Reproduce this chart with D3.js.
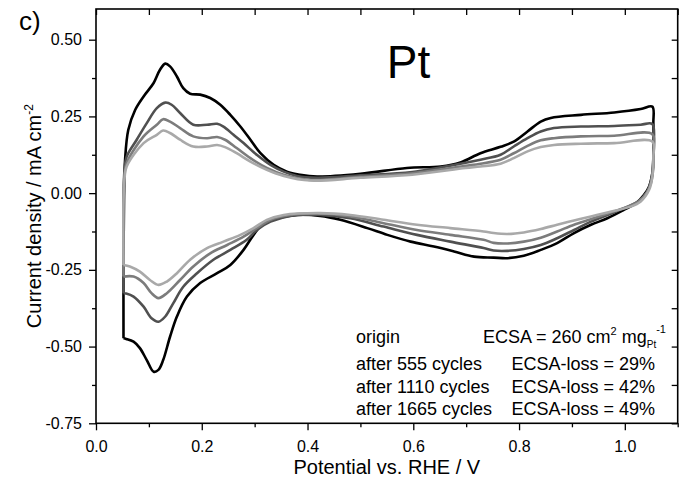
<!DOCTYPE html>
<html>
<head>
<meta charset="utf-8">
<script src="https://cdn.jsdelivr.net/npm/d3@7"></script>
<style>
  body { margin: 0; background: #fff; }
  svg { display: block; font-family: "Liberation Sans", Arial, sans-serif; }
</style>
</head>
<body>
<svg id="chart" width="681" height="477"></svg>
<script>
// potential (V vs RHE), current density (mA cm-2); loop: anodic scan then cathodic
var originCV = [
  [0.052, -0.473], [0.052, -0.25], [0.053, -0.022], [0.055, 0.109], [0.061, 0.206], [0.074, 0.271],
  [0.090, 0.315], [0.109, 0.359], [0.121, 0.402], [0.131, 0.422], [0.140, 0.413], [0.153, 0.380],
  [0.165, 0.342], [0.178, 0.324], [0.197, 0.321], [0.216, 0.310], [0.235, 0.288], [0.254, 0.255],
  [0.273, 0.217], [0.292, 0.174], [0.311, 0.130], [0.336, 0.092], [0.361, 0.070], [0.386, 0.060],
  [0.418, 0.054], [0.500, 0.063], [0.588, 0.082], [0.652, 0.087], [0.689, 0.100], [0.727, 0.130],
  [0.765, 0.151], [0.790, 0.168], [0.816, 0.201], [0.841, 0.233], [0.860, 0.245], [0.917, 0.255],
  [0.980, 0.263], [1.030, 0.274], [1.052, 0.282],
  [1.054, 0.228], [1.054, 0.119], [1.052, 0.065], [1.046, 0.022], [1.036, -0.006], [1.021, -0.033],
  [0.999, -0.054], [0.967, -0.082], [0.936, -0.103], [0.904, -0.130], [0.872, -0.163], [0.841, -0.185],
  [0.809, -0.204], [0.778, -0.212], [0.752, -0.210], [0.715, -0.207], [0.677, -0.190], [0.639, -0.174],
  [0.595, -0.158], [0.551, -0.136], [0.513, -0.114], [0.462, -0.087], [0.424, -0.074], [0.380, -0.071],
  [0.342, -0.082], [0.317, -0.098], [0.298, -0.136], [0.279, -0.185], [0.254, -0.234], [0.229, -0.261],
  [0.197, -0.293], [0.172, -0.337], [0.153, -0.402], [0.140, -0.468], [0.127, -0.544], [0.118, -0.576],
  [0.109, -0.582], [0.096, -0.544], [0.083, -0.505], [0.071, -0.484], [0.057, -0.475], [0.052, -0.473]
];
var cv555 = [
  [0.052, -0.326], [0.052, -0.022], [0.054, 0.076], [0.058, 0.119], [0.077, 0.174], [0.096, 0.228],
  [0.115, 0.277], [0.131, 0.295], [0.143, 0.288], [0.159, 0.261], [0.184, 0.223], [0.210, 0.223],
  [0.229, 0.226], [0.241, 0.217], [0.260, 0.190], [0.279, 0.163], [0.304, 0.125], [0.330, 0.092],
  [0.355, 0.070], [0.380, 0.056], [0.418, 0.050], [0.500, 0.058], [0.598, 0.069], [0.699, 0.099],
  [0.727, 0.109], [0.765, 0.125], [0.790, 0.152], [0.816, 0.179], [0.841, 0.201], [0.866, 0.212],
  [0.917, 0.217], [0.980, 0.219], [1.030, 0.223], [1.052, 0.225],
  [1.054, 0.141], [1.053, 0.076], [1.049, 0.037], [1.042, 0.004], [1.027, -0.025],
  [0.999, -0.049], [0.967, -0.071], [0.936, -0.093], [0.904, -0.120], [0.872, -0.147], [0.841, -0.169],
  [0.809, -0.182], [0.778, -0.188], [0.752, -0.187], [0.733, -0.179], [0.670, -0.158], [0.607, -0.136],
  [0.544, -0.109], [0.481, -0.082], [0.424, -0.071], [0.367, -0.074], [0.330, -0.093], [0.304, -0.120],
  [0.285, -0.152], [0.254, -0.185], [0.222, -0.217], [0.191, -0.261], [0.165, -0.305], [0.146, -0.359],
  [0.131, -0.402], [0.118, -0.419], [0.105, -0.408], [0.090, -0.370], [0.071, -0.337], [0.057, -0.327],
  [0.052, -0.326]
];
var cv1110 = [
  [0.052, -0.272], [0.052, -0.022], [0.054, 0.060], [0.058, 0.098], [0.090, 0.185], [0.115, 0.223],
  [0.127, 0.241], [0.140, 0.233], [0.159, 0.212], [0.184, 0.185], [0.210, 0.179], [0.229, 0.183],
  [0.244, 0.174], [0.266, 0.147], [0.292, 0.114], [0.323, 0.082], [0.355, 0.060], [0.405, 0.043],
  [0.500, 0.053], [0.598, 0.065], [0.699, 0.089], [0.727, 0.096], [0.765, 0.109], [0.790, 0.130],
  [0.816, 0.154], [0.841, 0.172], [0.866, 0.179], [0.917, 0.185], [0.980, 0.187], [1.052, 0.192],
  [1.054, 0.125], [1.053, 0.069], [1.049, 0.030], [1.040, -0.002], [1.025, -0.028],
  [0.967, -0.067], [0.936, -0.085], [0.904, -0.103], [0.872, -0.125], [0.841, -0.145], [0.809, -0.158],
  [0.778, -0.164], [0.752, -0.162], [0.733, -0.152], [0.670, -0.136], [0.607, -0.120], [0.544, -0.098],
  [0.481, -0.076], [0.424, -0.067], [0.367, -0.071], [0.330, -0.087], [0.304, -0.114], [0.279, -0.142],
  [0.248, -0.169], [0.216, -0.196], [0.184, -0.239], [0.159, -0.283], [0.134, -0.326], [0.118, -0.342],
  [0.105, -0.326], [0.090, -0.293], [0.071, -0.272], [0.052, -0.272]
];
var cv1665 = [
  [0.052, -0.234], [0.052, -0.022], [0.054, 0.050], [0.058, 0.087], [0.090, 0.163], [0.115, 0.190],
  [0.127, 0.204], [0.140, 0.196], [0.159, 0.174], [0.184, 0.152], [0.210, 0.152], [0.229, 0.157],
  [0.244, 0.150], [0.266, 0.130], [0.292, 0.103], [0.323, 0.076], [0.355, 0.056], [0.405, 0.041],
  [0.500, 0.050], [0.598, 0.060], [0.699, 0.082], [0.727, 0.087], [0.765, 0.096], [0.790, 0.114],
  [0.816, 0.136], [0.841, 0.150], [0.866, 0.157], [0.917, 0.161], [0.980, 0.163], [1.052, 0.168],
  [1.054, 0.118], [1.052, 0.054], [1.046, 0.011], [1.030, -0.027], [1.011, -0.044],
  [0.967, -0.063], [0.936, -0.076], [0.904, -0.089], [0.872, -0.103], [0.841, -0.117], [0.809, -0.128],
  [0.778, -0.133], [0.752, -0.130], [0.733, -0.125], [0.670, -0.114], [0.607, -0.103], [0.544, -0.087],
  [0.481, -0.071], [0.424, -0.065], [0.355, -0.071], [0.323, -0.087], [0.298, -0.114], [0.273, -0.136],
  [0.241, -0.158], [0.210, -0.179], [0.178, -0.217], [0.153, -0.261], [0.134, -0.288], [0.118, -0.299],
  [0.102, -0.283], [0.083, -0.256], [0.064, -0.239], [0.052, -0.234]
];

var seriesData = [originCV, cv555, cv1110, cv1665];
var seriesColors = ["#000000", "#505050", "#7c7c7c", "#a9a9a9"];
var cycleLabels = ["origin", "after 555 cycles", "after 1110 cycles", "after 1665 cycles"];
var lossLabels = [null, "ECSA-loss = 29%", "ECSA-loss = 42%", "ECSA-loss = 49%"];

var xMajor = [0, 0.2, 0.4, 0.6, 0.8, 1.0];
var xMinor = [0.1, 0.3, 0.5, 0.7, 0.9, 1.1];
var yMajor = [-0.75, -0.5, -0.25, 0, 0.25, 0.5];
var yMinor = [-0.625, -0.375, -0.125, 0.125, 0.375];

var svg = d3.select("#chart"),
  plotL = 96, plotR = 677.7, plotT = 9, plotB = 423.3,
  x = d3.scaleLinear().domain([0, 1.1]).range([plotL, plotR]),
  y = d3.scaleLinear().domain([-0.75, 0.6]).range([plotB, plotT]),
  majLen = 7, minLen = 4;

svg.append("rect").attr("width", 681).attr("height", 477).attr("fill", "#fff");

// curves
var line = d3.line()
  .x(function(d) { return x(d[0]); })
  .y(function(d) { return y(d[1]); })
  .curve(d3.curveCatmullRom.alpha(0.5));

svg.append("g").selectAll("path")
  .data(seriesData)
  .enter()
  .append("path")
    .attr("d", line)
    .attr("fill", "none")
    .attr("stroke", function(d, i) { return seriesColors[i]; })
    .attr("stroke-width", 2.6)
    .attr("stroke-linejoin", "round");

// axes
function styleAxis(g) {
  g.select(".domain").remove();
  g.selectAll(".tick line").attr("stroke", "#000").attr("stroke-width", 1.3);
  g.selectAll(".tick text").attr("fill", "#000").attr("font-size", "16px")
    .attr("font-family", "'Liberation Sans', Arial, sans-serif");
}

svg.append("g").attr("transform", "translate(0," + plotB + ")")
  .call(d3.axisBottom(x).tickValues(xMajor).tickSize(majLen).tickPadding(10)
    .tickFormat(function(d) { return d.toFixed(1); }))
  .call(styleAxis);
svg.append("g").attr("transform", "translate(0," + plotB + ")")
  .call(d3.axisBottom(x).tickValues(xMinor).tickSize(minLen).tickFormat(""))
  .call(styleAxis);

svg.append("g").attr("transform", "translate(" + plotL + ",0)")
  .call(d3.axisLeft(y).tickValues(yMajor).tickSize(majLen).tickPadding(7)
    .tickFormat(function(d) { return d.toFixed(2); }))
  .call(styleAxis);
svg.append("g").attr("transform", "translate(" + plotL + ",0)")
  .call(d3.axisLeft(y).tickValues(yMinor).tickSize(minLen).tickFormat(""))
  .call(styleAxis);

// mirrored inward ticks on top and right
svg.append("g").attr("transform", "translate(0," + plotT + ")")
  .call(d3.axisBottom(x).tickValues(xMajor.concat(xMinor)).tickSize(6).tickFormat(""))
  .call(styleAxis);
svg.append("g").attr("transform", "translate(" + plotR + ",0)")
  .call(d3.axisLeft(y).tickValues(yMajor.concat(yMinor)).tickSize(6).tickFormat(""))
  .call(styleAxis);

svg.append("rect")
  .attr("x", plotL).attr("y", plotT)
  .attr("width", plotR - plotL).attr("height", plotB - plotT)
  .attr("fill", "none").attr("stroke", "#000").attr("stroke-width", 1.6);

// titles
svg.append("text")
  .attr("x", (plotL + plotR) / 2).attr("y", 474)
  .attr("text-anchor", "middle").attr("font-size", "20px")
  .text("Potential vs. RHE / V");

var yt = svg.append("text")
  .attr("transform", "translate(40.5," + ((plotT + plotB) / 2) + ") rotate(-90)")
  .attr("text-anchor", "middle").attr("font-size", "20px");
yt.append("tspan").text("Current density / mA cm");
yt.append("tspan").attr("font-size", "12px").attr("dy", -8).text("-2");

svg.append("text")
  .attr("x", 408.5).attr("y", 78)
  .attr("text-anchor", "middle").attr("font-size", "46px")
  .text("Pt");

svg.append("text")
  .attr("x", 19).attr("y", 30)
  .attr("font-size", "26px")
  .text("c)");

// legend text
var legendY = [343, 370, 392.5, 415];
svg.append("g").selectAll("text")
  .data(cycleLabels)
  .enter()
  .append("text")
    .attr("x", 356)
    .attr("y", function(d, i) { return legendY[i]; })
    .attr("font-size", "18px")
    .text(function(d) { return d; });

svg.append("g").selectAll("text")
  .data(lossLabels.slice(1))
  .enter()
  .append("text")
    .attr("x", 511.5)
    .attr("y", function(d, i) { return legendY[i + 1]; })
    .attr("font-size", "18px")
    .text(function(d) { return d; });

var ecsa = svg.append("text")
  .attr("x", 483).attr("y", legendY[0])
  .attr("font-size", "18px");
ecsa.append("tspan").text("ECSA = 260 cm");
ecsa.append("tspan").attr("font-size", "11px").attr("dy", -8).text("2");
ecsa.append("tspan").attr("dy", 8).text(" mg");
ecsa.append("tspan").attr("font-size", "10px").attr("dy", 5).text("Pt");
ecsa.append("tspan").attr("font-size", "11px").attr("dy", -15).text("-1");
</script>
</body>
</html>
